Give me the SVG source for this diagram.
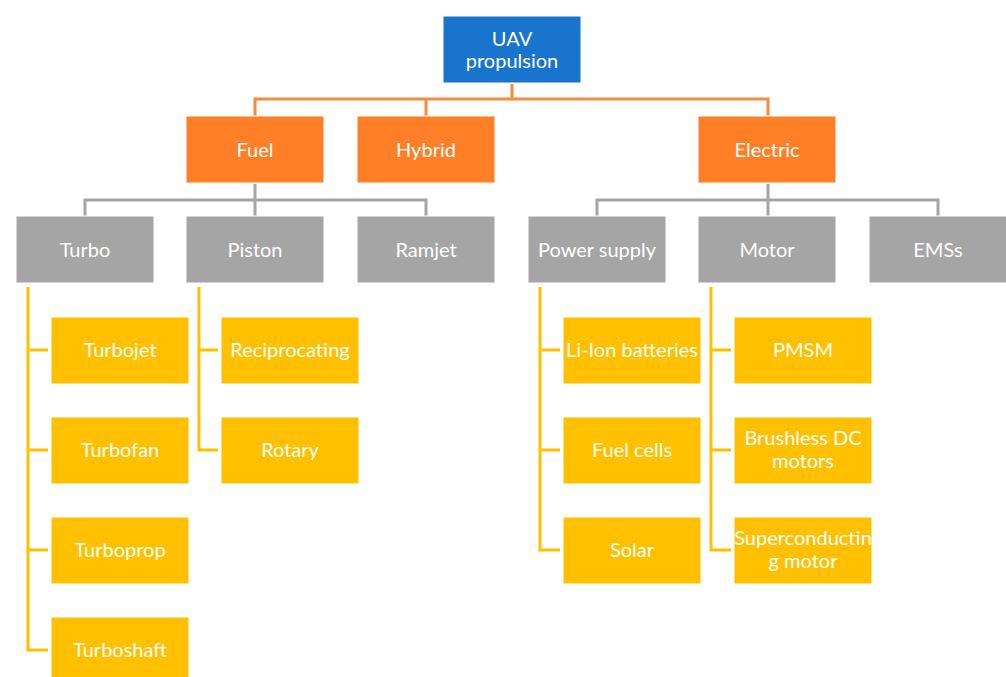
<svg xmlns="http://www.w3.org/2000/svg" width="1006" height="677" viewBox="0 0 1006 677">
<style>
.b{stroke:#ffffff;stroke-width:1}
.blue{fill:#1874CD}
.or{fill:#FF7F27}
.gr{fill:#A5A5A5}
.ye{fill:#FFC000}
text{font-family:Lato,"Open Sans","Liberation Sans",sans-serif;font-size:20px;fill:#ffffff;text-anchor:middle}
.co{fill:none;stroke:#F98A3C;stroke-width:3}
.cg{fill:none;stroke:#A5A5A5;stroke-width:3}
.cy{fill:none;stroke:#FFC000;stroke-width:3}
</style>
<rect width="1006" height="677" fill="#ffffff"/>
<g id="connectors">
<path class="co" d="M512 84V99M255 116V99H768V116M426 99V116"/>
<path class="cg" d="M255 184V200M85 216V200H426V216M255 200V216"/>
<path class="cg" d="M768 184V200M597 216V200H938V216M768 200V216"/>
<path class="cy" d="M28 287V650H48M28 350H48M28 450H48M28 550H48"/>
<path class="cy" d="M199 287V450H218M199 350H218"/>
<path class="cy" d="M540 287V550H560M540 350H560M540 450H560"/>
<path class="cy" d="M711 287V550H731M711 350H731M711 450H731"/>
</g>
<g id="uav"><rect class="b blue" x="443" y="16" width="138" height="67"/><text x="512" y="46">UAV</text><text x="512" y="68">propulsion</text></g>
<g id="fuel"><rect class="b or" x="186" y="116" width="138" height="67"/><text x="255" y="157">Fuel</text></g>
<g id="hybrid"><rect class="b or" x="357" y="116" width="138" height="67"/><text x="426" y="157">Hybrid</text></g>
<g id="electric"><rect class="b or" x="698" y="116" width="138" height="67"/><text x="767" y="157">Electric</text></g>
<g id="turbo"><rect class="b gr" x="16" y="216" width="138" height="67"/><text x="85" y="257">Turbo</text></g>
<g id="piston"><rect class="b gr" x="186" y="216" width="138" height="67"/><text x="255" y="257">Piston</text></g>
<g id="ramjet"><rect class="b gr" x="357" y="216" width="138" height="67"/><text x="426" y="257">Ramjet</text></g>
<g id="powersupply"><rect class="b gr" x="528" y="216" width="138" height="67"/><text x="597" y="257">Power supply</text></g>
<g id="motor"><rect class="b gr" x="698" y="216" width="138" height="67"/><text x="767" y="257">Motor</text></g>
<g id="emss"><rect class="b gr" x="869" y="216" width="138" height="67"/><text x="938" y="257">EMSs</text></g>
<g id="turbojet"><rect class="b ye" x="51" y="317" width="138" height="67"/><text x="120" y="357">Turbojet</text></g>
<g id="turbofan"><rect class="b ye" x="51" y="417" width="138" height="67"/><text x="120" y="457">Turbofan</text></g>
<g id="turboprop"><rect class="b ye" x="51" y="517" width="138" height="67"/><text x="120" y="557">Turboprop</text></g>
<g id="turboshaft"><rect class="b ye" x="51" y="617" width="138" height="67"/><text x="120" y="657">Turboshaft</text></g>
<g id="reciprocating"><rect class="b ye" x="221" y="317" width="138" height="67"/><text x="290" y="357">Reciprocating</text></g>
<g id="rotary"><rect class="b ye" x="221" y="417" width="138" height="67"/><text x="290" y="457">Rotary</text></g>
<g id="liion"><rect class="b ye" x="563" y="317" width="138" height="67"/><text x="632" y="357">Li-Ion batteries</text></g>
<g id="fuelcells"><rect class="b ye" x="563" y="417" width="138" height="67"/><text x="632" y="457">Fuel cells</text></g>
<g id="solar"><rect class="b ye" x="563" y="517" width="138" height="67"/><text x="632" y="557">Solar</text></g>
<g id="pmsm"><rect class="b ye" x="734" y="317" width="138" height="67"/><text x="803" y="357">PMSM</text></g>
<g id="bldc"><rect class="b ye" x="734" y="417" width="138" height="67"/><text x="803" y="445">Brushless DC</text><text x="803" y="468">motors</text></g>
<g id="superconducting"><rect class="b ye" x="734" y="517" width="138" height="67"/><text x="803" y="545">Superconductin</text><text x="803" y="568">g motor</text></g>
</svg>
